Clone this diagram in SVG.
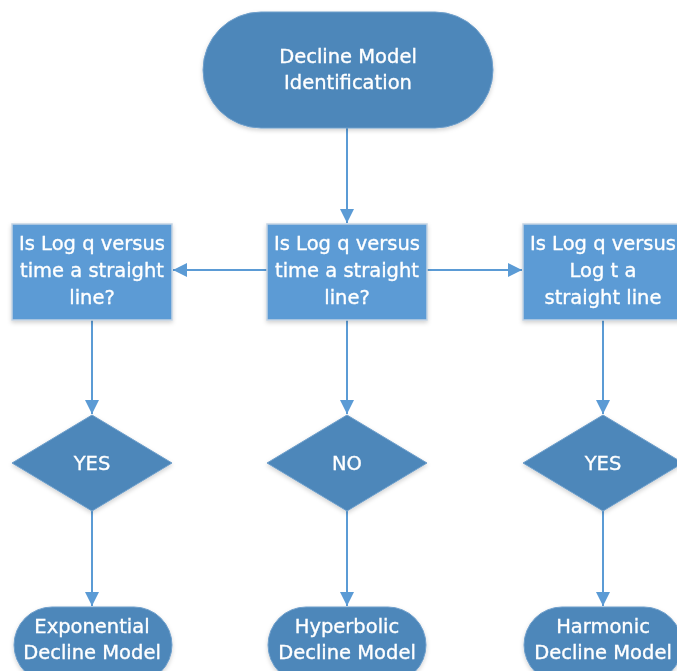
<svg xmlns="http://www.w3.org/2000/svg" width="677" height="671" viewBox="0 0 677 671">
  <style>
    .term { fill: #4d87ba; stroke: #6f9fcb; stroke-width: 1; }
    .box { fill: #5b9bd5; stroke: #c3d3e3; stroke-width: 1.5; }
    .dia { fill: #4d87ba; stroke: #6f9fcb; stroke-width: 1; }
    .lbl { font-family: "DejaVu Sans", Verdana, sans-serif; font-size: 19.5px; fill: #ffffff; stroke: #ffffff; stroke-width: 0.35; text-anchor: middle; dominant-baseline: central; }
    .edge { stroke: #5b9bd5; stroke-width: 2; fill: none; marker-end: url(#arrow); }
  </style>
  <defs>
    <marker id="arrow" viewBox="0 0 14 14" refX="14" refY="7" markerWidth="14" markerHeight="14" markerUnits="userSpaceOnUse" orient="auto">
      <path d="M0,0 L14,7 L0,14 z" fill="#5b9bd5"/>
    </marker>
    <filter id="shadow" x="-10%" y="-10%" width="120%" height="130%">
      <feDropShadow dx="0" dy="2" stdDeviation="2" flood-color="#000" flood-opacity="0.18"/>
    </filter>
  </defs>
  <rect width="677" height="671" fill="#ffffff"/>

  <g id="connectors">
    <line class="edge" x1="347" y1="128" x2="347" y2="223"/>
    <line class="edge" x1="267" y1="270" x2="173" y2="270"/>
    <line class="edge" x1="427" y1="270" x2="522" y2="270"/>
    <line class="edge" x1="92" y1="320" x2="92" y2="414"/>
    <line class="edge" x1="347" y1="320" x2="347" y2="414"/>
    <line class="edge" x1="603" y1="320" x2="603" y2="414"/>
    <line class="edge" x1="92" y1="511" x2="92" y2="606"/>
    <line class="edge" x1="347" y1="511" x2="347" y2="606"/>
    <line class="edge" x1="603" y1="511" x2="603" y2="606"/>
  </g>

  <g id="start" filter="url(#shadow)">
    <rect class="term" x="203" y="12" width="290" height="116" rx="58" ry="58"/>
    <text class="lbl" x="348" y="56">Decline Model</text>
    <text class="lbl" x="348" y="82">Identification</text>
  </g>

  <g id="q-left" filter="url(#shadow)">
    <rect class="box" x="12" y="224" width="160" height="96"/>
    <text class="lbl" x="92" y="243">Is Log q versus</text>
    <text class="lbl" x="92" y="270">time a straight</text>
    <text class="lbl" x="92" y="297">line?</text>
  </g>

  <g id="q-center" filter="url(#shadow)">
    <rect class="box" x="267" y="224" width="160" height="96"/>
    <text class="lbl" x="347" y="243">Is Log q versus</text>
    <text class="lbl" x="347" y="270">time a straight</text>
    <text class="lbl" x="347" y="297">line?</text>
  </g>

  <g id="q-right" filter="url(#shadow)">
    <rect class="box" x="523" y="224" width="160" height="96"/>
    <text class="lbl" x="603" y="243">Is Log q versus</text>
    <text class="lbl" x="603" y="270">Log t a</text>
    <text class="lbl" x="603" y="297">straight line</text>
  </g>

  <g id="d-left" filter="url(#shadow)">
    <polygon class="dia" points="92,415 172,463 92,511 12,463"/>
    <text class="lbl" x="92" y="463">YES</text>
  </g>

  <g id="d-center" filter="url(#shadow)">
    <polygon class="dia" points="347,415 427,463 347,511 267,463"/>
    <text class="lbl" x="347" y="463">NO</text>
  </g>

  <g id="d-right" filter="url(#shadow)">
    <polygon class="dia" points="603,415 683,463 603,511 523,463"/>
    <text class="lbl" x="603" y="463">YES</text>
  </g>

  <g id="end-exponential" filter="url(#shadow)">
    <rect class="term" x="14" y="607" width="158" height="76" rx="38" ry="38"/>
    <text class="lbl" x="92" y="626">Exponential</text>
    <text class="lbl" x="92" y="652">Decline Model</text>
  </g>

  <g id="end-hyperbolic" filter="url(#shadow)">
    <rect class="term" x="268" y="607" width="158" height="76" rx="38" ry="38"/>
    <text class="lbl" x="347" y="626">Hyperbolic</text>
    <text class="lbl" x="347" y="652">Decline Model</text>
  </g>

  <g id="end-harmonic" filter="url(#shadow)">
    <rect class="term" x="524" y="607" width="158" height="76" rx="38" ry="38"/>
    <text class="lbl" x="603" y="626">Harmonic</text>
    <text class="lbl" x="603" y="652">Decline Model</text>
  </g>
</svg>
